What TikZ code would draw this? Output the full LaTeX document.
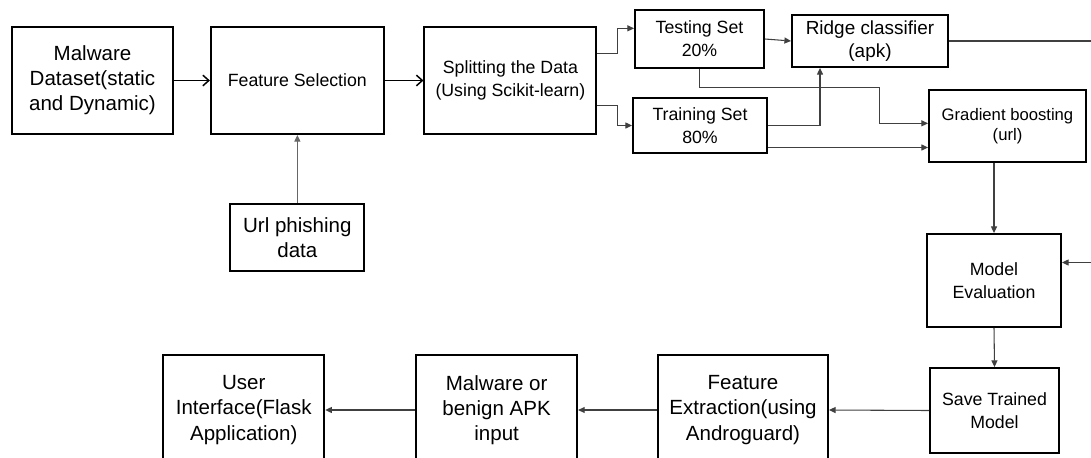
\documentclass[tikz,border=0pt]{standalone}
\usepackage{fontspec}
\setmainfont{Liberation Sans}
\usepackage{tikz}
\usetikzlibrary{arrows.meta, positioning}

\begin{document}
\begin{tikzpicture}[
        x=0.75pt, y=-0.75pt,
        box/.style={draw, line width=1.4pt, rectangle, fill=white, align=center, inner sep=0pt},
        bigtext/.style={font={\fontsize{15.4}{18.8}\selectfont}},
        midtext/.style={font={\fontsize{13.3}{17.2}\selectfont}},
        smalltext/.style={font={\fontsize{12.5}{15}\selectfont}},
        flow/.style={-{Straight Barb[length=4.5pt, width=8pt]}, line width=1.1pt},
        link/.style={-{Triangle[length=5pt, width=4.5pt]}, draw=black!75, line width=0.8pt}
    ]
    \useasboundingbox (0,0) rectangle (1091,457);
    \clip (0,0) rectangle (1091,457);

    % Data preparation
    \node (Dataset) [box, bigtext, minimum width=120.75pt, minimum height=80.25pt] at (92.5,80.5) {Malware\\Dataset(static\\and Dynamic)};
    \node (FeatSel) [box, midtext, minimum width=129.75pt, minimum height=80.25pt, right=27pt of Dataset] {Feature Selection};
    \node (Split) [box, midtext, minimum width=129pt, minimum height=80.25pt, right=29pt of FeatSel] {Splitting the Data\\(Using Scikit-learn)};
    \node (UrlData) [box, bigtext, minimum width=100.5pt, minimum height=50.25pt, below=51pt of FeatSel] {Url phishing\\data};

    % Sets and classifiers
    \node (TestSet) [box, midtext, minimum width=96.75pt, minimum height=43.5pt] at (699.5,39) {Testing Set\\20\%};
    \node (TrainSet) [box, midtext, minimum width=100.5pt, minimum height=41.25pt] at (700,125.5) {Training Set\\80\%};
    \node (Ridge) [box, font={\fontsize{14.2}{17.2}\selectfont}, minimum width=117pt, minimum height=39pt] at (870,41) {Ridge classifier\\(apk)};
    \node (GradBoost) [box, smalltext, minimum width=117.75pt, minimum height=54pt] at (1007.5,126) {Gradient boosting\\(url)};
    \node (Eval) [box, midtext, minimum width=100.5pt, minimum height=69.75pt] at (994,280.5) {Model\\Evaluation};
    \node (SaveModel) [box, midtext, minimum width=96.75pt, minimum height=63.75pt] at (994.5,410.5) {Save Trained\\Model};

    % Deployment
    \node (Extract) [box, bigtext, minimum width=127.5pt, minimum height=82.5pt] at (743,410) {Feature\\Extraction(using\\Androguard)};
    \node (ApkInput) [box, bigtext, minimum width=120.75pt, minimum height=82.5pt, left=59.25pt of Extract] {Malware or\\benign APK\\input};
    \node (UserUI) [box, bigtext, minimum width=120.75pt, minimum height=82.5pt, left=67.5pt of ApkInput] {User\\Interface(Flask\\Application)};

    % Connections
    \draw [flow] (Dataset.east) -- (FeatSel.west);
    \draw [flow] (FeatSel.east) -- (Split.west);
    \draw [link, draw=black!60] (UrlData.north) -- (FeatSel.south);
    \draw [link] ([yshift=20.5pt]Split.east) -- ++(20,0) |- ([yshift=8pt]TestSet.west);
    \draw [link] ([yshift=-19pt]Split.east) -- ++(20,0) |- (TrainSet.west);
    \draw [link] (TestSet.east) -- (Ridge.west);
    \draw [link] (TestSet.south) -- ++(0,19) -- ++(180,0) |- ([yshift=2pt]GradBoost.west);
    \draw [link] (TrainSet.east) -| ([xshift=-37.5pt]Ridge.south);
    \draw [link] ([yshift=-16.5pt]TrainSet.east) -- ([yshift=-16.5pt]TrainSet.east -| GradBoost.west);
    \draw [link] (Ridge.east) -- ++(170,0) |- ([yshift=13.5pt]Eval.east);
    \draw [link] (GradBoost.south -| Eval.north) -- (Eval.north);
    \draw [link] (Eval.south) -- (SaveModel.north);
    \draw [link] (SaveModel.west) -- (Extract.east);
    \draw [link] (Extract.west) -- (ApkInput.east);
    \draw [link] (ApkInput.west) -- (UserUI.east);

\end{tikzpicture}
\end{document}
